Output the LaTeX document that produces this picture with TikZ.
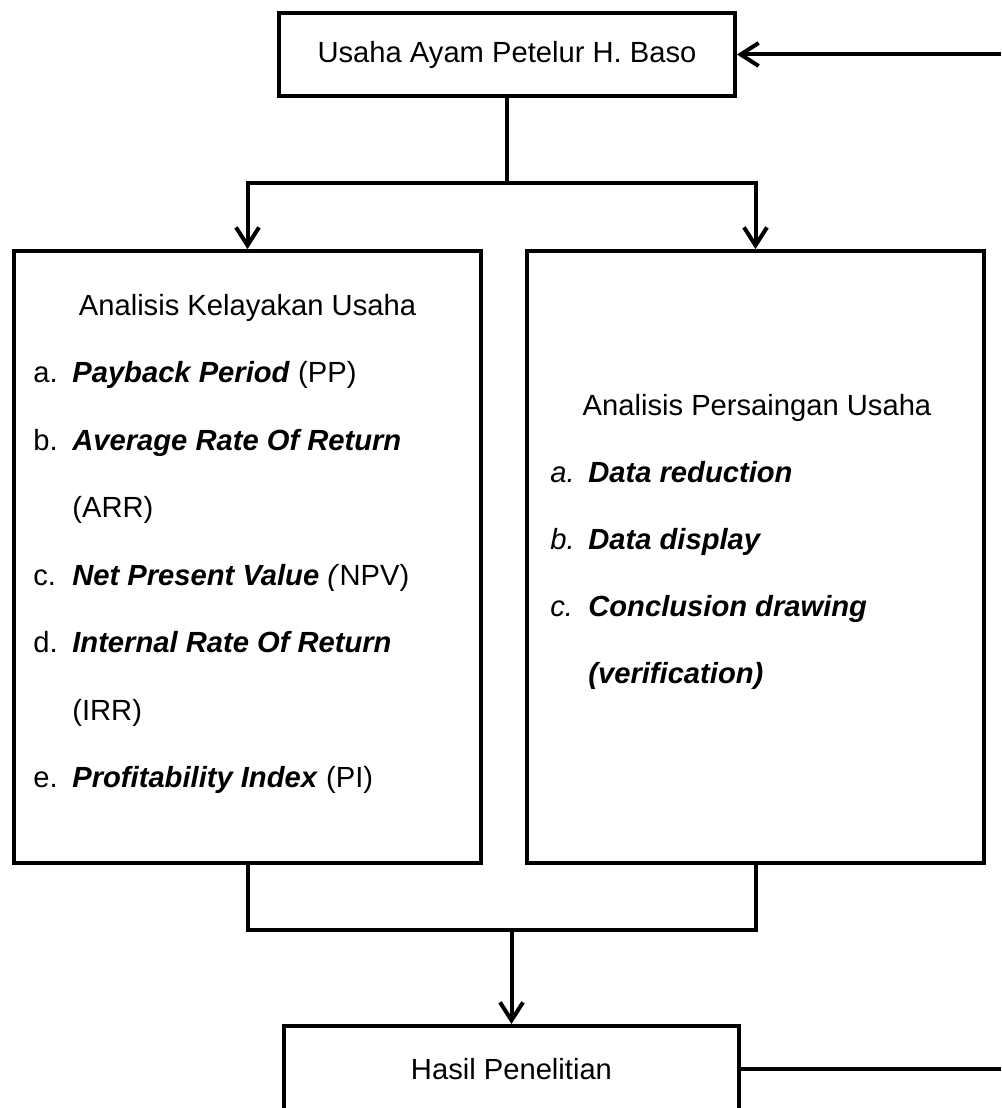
\documentclass[tikz,border=0pt]{standalone}
\usepackage{fontspec}
\setmainfont{Liberation Sans}
\usetikzlibrary{arrows.meta}

\begin{document}
\begin{tikzpicture}[x=0.02cm,y=-0.02cm,
  every node/.style={font=\fontsize{16.6}{20}\selectfont},
  box node/.style={draw,rectangle,line width=0.08cm,inner sep=0pt},
  title node/.style={anchor=base,inner sep=0pt},
  line node/.style={anchor=base west,inner sep=0pt},
  conn/.style={line width=0.08cm,line join=miter,
    -{Straight Barb[length=0.36cm,width=0.46cm]}},
  plain/.style={line width=0.08cm,line join=miter}]
  \useasboundingbox (0,0) rectangle (1001,1108);

  \node[box node,minimum width=9.12cm,minimum height=1.66cm] (usaha) at (507,54.5) {Usaha Ayam Petelur H. Baso};
  \node[box node,minimum width=9.34cm,minimum height=12.24cm] (kelayakan) at (247.5,557) {};
  \node[box node,minimum width=9.14cm,minimum height=12.24cm] (persaingan) at (755.5,557) {};
  \node[box node,minimum width=9.1cm,minimum height=1.72cm] (hasil) at (511.5,1069) {Hasil Penelitian};

  % isi kotak kiri
  \node[title node] (k0) at (247.5,315) {Analisis Kelayakan Usaha};
  \node[line node] (la) at (33,382.5) {a.};
  \node[line node] (ia) at (72,382.5) {\textbf{\textit{Payback Period}} (PP)};
  \node[line node] (lb) at (33,450) {b.};
  \node[line node] (ib) at (72,450) {\textbf{\textit{Average Rate Of Return}}};
  \node[line node] (ib2) at (72,517.5) {(ARR)};
  \node[line node] (lc) at (33,585) {c.};
  \node[line node] (ic) at (72,585) {\textbf{\textit{Net Present Value}} \textit{(}NPV)};
  \node[line node] (ld) at (33,652.5) {d.};
  \node[line node] (id) at (72,652.5) {\textbf{\textit{Internal Rate Of Return}}};
  \node[line node] (id2) at (72,720) {(IRR)};
  \node[line node] (le) at (33,787.5) {e.};
  \node[line node] (ie) at (72,787.5) {\textbf{\textit{Profitability Index}} (PI)};

  % isi kotak kanan
  \node[title node] (p0) at (757,415) {Analisis Persaingan Usaha};
  \node[line node] (ma) at (550,482) {\textit{a.}};
  \node[line node] (ja) at (588,482) {\textbf{\textit{Data reduction}}};
  \node[line node] (mb) at (550,549) {\textit{b.}};
  \node[line node] (jb) at (588,549) {\textbf{\textit{Data display}}};
  \node[line node] (mc) at (550,616) {\textit{c.}};
  \node[line node] (jc) at (588,616) {\textbf{\textit{Conclusion drawing}}};
  \node[line node] (jc2) at (588,683) {\textbf{\textit{(verification)}}};

  \coordinate (masuk) at (1001,54.5);
  \coordinate (cabang) at (507,183);
  \coordinate (gabung) at (511.5,930);
  \coordinate (keluar) at (1001,1069);

  \draw[conn] (masuk) -- (usaha);
  \draw[plain] (usaha) -- (cabang);
  \draw[conn] (cabang) -| (kelayakan);
  \draw[conn] (cabang) -| (persaingan);
  \draw[plain] (kelayakan) |- (gabung);
  \draw[plain] (persaingan) |- (gabung);
  \draw[conn] (gabung) -- (hasil);
  \draw[plain] (hasil) -- (keluar);
\end{tikzpicture}
\end{document}
